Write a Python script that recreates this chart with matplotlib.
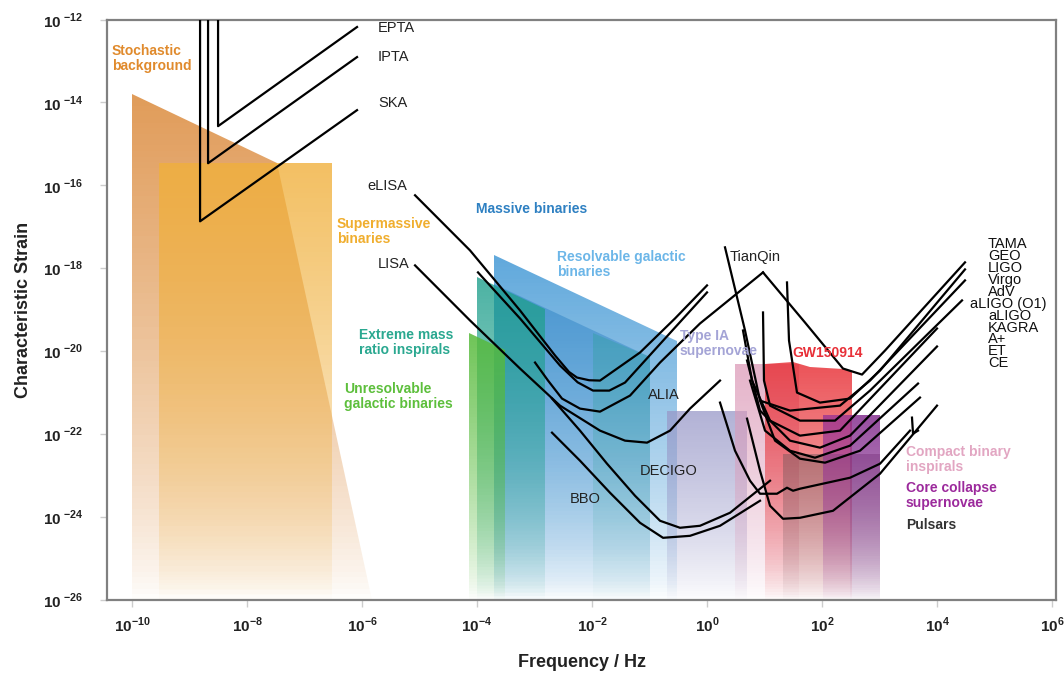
import numpy as np
import matplotlib
matplotlib.use('Agg')
import matplotlib.pyplot as plt
from matplotlib.patches import Polygon
from matplotlib.colors import LinearSegmentedColormap, to_rgb

plt.rcParams['font.family'] = ['Liberation Sans', 'DejaVu Sans']
plt.rcParams['mathtext.fontset'] = 'custom'
plt.rcParams['mathtext.rm'] = 'Liberation Sans'
plt.rcParams['mathtext.bf'] = 'Liberation Sans:bold'

# all values are log10(frequency / Hz) and log10(characteristic strain)
FLOOR = -26.0

# source regions (polygon corners)
stoch_f = [-10.0, -7.48, -5.83, -10.0]
stoch_h = [-13.80, -15.47, FLOOR, FLOOR]
smbh_f = [-9.53, -6.52, -6.52, -9.53]
smbh_h = [-15.47, -15.47, FLOOR, FLOOR]
mb_f = [-3.70, -0.52, -0.52, -3.70]
mb_h = [-17.69, -19.75, FLOOR, FLOOR]
rgb_f = [-3.70, -0.99, -0.99, -3.70]
rgb_h = [-18.37, -20.15, FLOOR, FLOOR]
emri_f = [-4.00, -2.82, -2.82, -4.00]
emri_h = [-18.22, -18.99, FLOOR, FLOOR]
emri2_f = [-1.98, -0.99, -0.99, -1.98]
emri2_h = [-19.55, -20.15, FLOOR, FLOOR]
ugb_f = [-4.14, -3.51, -3.51, -4.14]
ugb_h = [-19.57, -19.98, FLOOR, FLOOR]
sn1a_f = [-0.70, 0.70, 0.70, -0.70]
sn1a_h = [-21.43, -21.43, FLOOR, FLOOR]
cbc_f = [0.49, 1.60, 1.60, 0.49]
cbc_h = [-20.30, -20.30, FLOOR, FLOOR]
gw_f = [1.01, 1.50, 1.79, 2.37, 2.52, 2.52, 1.01]
gw_h = [-20.30, -20.27, -20.39, -20.42, -20.47, FLOOR, FLOOR]
psr_f = [1.32, 3.01, 3.01, 1.32]
psr_h = [-22.47, -22.47, FLOOR, FLOOR]
ccsn_f = [2.02, 3.01, 3.01, 2.02]
ccsn_h = [-21.55, -21.55, FLOOR, FLOOR]
ccsn2_f = [2.49, 3.01, 3.01, 2.49]
ccsn2_h = [-21.55, -21.55, FLOOR, FLOOR]

# pulsar timing arrays
epta_f = [-8.504, -8.504, -6.087]
epta_h = [-11.9, -14.572, -12.181]
ipta_f = [-8.678, -8.678, -6.087]
ipta_h = [-11.9, -15.466, -12.906]
ska_f = [-8.817, -8.817, -6.087]
ska_h = [-11.9, -16.867, -14.186]

# space detectors
elisa_f = [-5.078, -4.122, -3.252, -2.643, -2.40, -2.261, -2.05, -1.861, -1.165, -0.557, 0.0]
elisa_h = [-16.239, -17.568, -19.017, -20.103, -20.50, -20.635, -20.70, -20.708, -20.031, -19.210, -18.413]
taiji_f = [-3.983, -3.252, -2.557, -2.25, -1.983, -1.70, -1.426, -0.730, 0.0]
taiji_h = [-18.099, -19.210, -20.345, -20.75, -20.949, -20.95, -20.756, -19.693, -18.582]
lisa_f = [-5.078, -4.122, -3.252, -2.557, -1.861, -1.426, -1.043, -0.643, -0.296, 0.226]
lisa_h = [-17.930, -19.258, -20.418, -21.312, -21.915, -22.157, -22.205, -21.915, -21.384, -20.708]
alia_f = [-2.991, -2.765, -2.522, -2.209, -1.861, -1.339, -0.817, -0.122, 0.974]
alia_h = [-20.273, -20.708, -21.142, -21.384, -21.457, -21.070, -20.273, -19.331, -18.099]
decigo_f = [-2.696, -2.209, -1.739, -1.252, -0.817, -0.470, -0.122, 0.400, 1.096]
decigo_h = [-21.142, -21.915, -22.713, -23.486, -24.089, -24.258, -24.210, -23.896, -23.123]
bbo_f = [-2.696, -2.209, -1.687, -1.165, -0.765, -0.296, 0.226, 0.922]
bbo_h = [-21.964, -22.640, -23.413, -24.138, -24.500, -24.452, -24.210, -23.606]

# ground detectors
tama_f = [0.974, 1.704, 2.365, 2.696, 3.096, 4.487]
tama_h = [-18.099, -19.307, -20.418, -20.563, -19.983, -17.857]
geo_f = [1.391, 1.426, 1.565, 1.965, 2.487, 3.009, 4.487]
geo_h = [-18.341, -19.741, -20.997, -21.239, -21.142, -20.466, -18.027]
ligo_f = [0.313, 0.661, 0.922, 1.443, 2.313, 2.835, 4.487]
ligo_h = [-17.495, -19.5, -21.191, -21.432, -21.312, -20.708, -18.292]
virgo_f = [0.974, 0.991, 1.096, 1.617, 2.226, 2.835, 4.435]
virgo_h = [-19.065, -20.708, -21.312, -21.674, -21.674, -20.949, -18.775]
adv_f = [0.626, 0.783, 1.096, 1.617, 2.313, 4.0]
adv_h = [-19.5, -20.708, -21.674, -22.036, -21.915, -19.452]
aligo_f = [0.696, 0.922, 1.443, 1.965, 2.487, 4.0]
aligo_h = [-20.224, -21.432, -22.157, -22.326, -22.036, -19.886]
kagra_f = [0.748, 1.009, 1.443, 1.878, 2.487, 3.670]
kagra_h = [-20.708, -21.915, -22.399, -22.568, -22.278, -20.780]
aplus_f = [0.922, 1.183, 1.617, 2.052, 2.661, 3.704]
aplus_h = [-21.191, -22.157, -22.592, -22.688, -22.399, -21.118]
et_f = [0.226, 0.487, 0.748, 0.922, 1.217, 1.391, 1.496, 1.617, 2.487, 3.009, 3.530]
et_h = [-21.239, -22.399, -23.123, -23.437, -23.437, -23.292, -23.365, -23.316, -23.051, -22.713, -21.915]
ce_f = [0.696, 0.922, 1.096, 1.322, 1.617, 2.191, 3.009, 4.0]
ce_h = [-21.626, -22.882, -23.727, -24.041, -24.017, -23.848, -22.954, -21.312]
psr_tick_f = [3.565, 3.583, 3.670]
psr_tick_h = [-21.601, -21.988, -21.915]

detectors = ['TAMA', 'GEO', 'LIGO', 'Virgo', 'AdV', 'aLIGO (O1)', 'aLIGO',
             'KAGRA', 'A+', 'ET', 'CE']

fig = plt.figure(figsize=(10.64, 6.75), dpi=100)
ax = fig.add_axes([0.1006, 0.1111, 0.8919, 0.86])
ax.set_xscale('log')
ax.set_yscale('log')


def shade(lf, lh, color, a0):
    f = 10.0 ** np.asarray(lf)
    h = 10.0 ** np.asarray(lh)
    poly = Polygon(np.column_stack([f, h]), closed=True, fc='none', ec='none')
    ax.add_patch(poly)
    top = max(lh)
    edges = np.linspace(FLOOR, top, 90)
    mids = 0.5 * (edges[1:] + edges[:-1])
    frac = ((mids - FLOOR) / (top - FLOOR)) ** 0.75
    r, g, b = to_rgb(color)
    cmap = LinearSegmentedColormap.from_list('fade', [(r, g, b, 0.0), (r, g, b, a0)])
    mesh = ax.pcolormesh([f.min(), f.max()], 10.0 ** edges, frac[:, None],
                         cmap=cmap, vmin=0, vmax=1, shading='flat', zorder=1)
    mesh.set_clip_path(poly)


shade(stoch_f, stoch_h, '#d98330', 0.8)
shade(smbh_f, smbh_h, '#f0b03c', 0.8)
shade(mb_f, mb_h, '#4f9fd8', 0.9)
shade(rgb_f, rgb_h, '#2a80c4', 0.5)
shade(emri_f, emri_h, '#1f9f8c', 0.8)
shade(emri2_f, emri2_h, '#1f9f8c', 0.3)
shade(ugb_f, ugb_h, '#56ba3a', 0.85)
shade(sn1a_f, sn1a_h, '#9898c8', 0.75)
shade(cbc_f, cbc_h, '#dc9ab8', 0.75)
shade(gw_f, gw_h, '#e8343a', 0.85)
shade(psr_f, psr_h, '#6e5458', 0.45)
shade(ccsn_f, ccsn_h, '#8f2c98', 0.7)
shade(ccsn2_f, ccsn2_h, '#6a1e78', 0.35)

curves = [(epta_f, epta_h), (ipta_f, ipta_h), (ska_f, ska_h),
          (elisa_f, elisa_h), (taiji_f, taiji_h), (lisa_f, lisa_h),
          (alia_f, alia_h), (decigo_f, decigo_h), (bbo_f, bbo_h),
          (tama_f, tama_h), (geo_f, geo_h), (ligo_f, ligo_h),
          (virgo_f, virgo_h), (adv_f, adv_h), (aligo_f, aligo_h),
          (kagra_f, kagra_h), (aplus_f, aplus_h), (et_f, et_h),
          (ce_f, ce_h), (psr_tick_f, psr_tick_h)]
for cf, ch in curves:
    ax.plot(10.0 ** np.array(cf), 10.0 ** np.array(ch), color='black',
            lw=1.6, zorder=3, solid_joinstyle='round')

ax.set_xlim(10 ** -10.435, 10 ** 6.07)
ax.set_ylim(1e-26, 1e-12)

# coloured source labels
src_labels = [
    ('Stochastic\nbackground', -10.348, -12.942, '#e08a2c'),
    ('Supermassive\nbinaries', -6.435, -17.109, '#f0ae2e'),
    ('Massive binaries', -4.017, -16.577, '#2e80c2'),
    ('Resolvable galactic\nbinaries', -2.609, -17.918, '#6cb6e8'),
    ('Extreme mass\nratio inspirals', -6.052, -19.789, '#2aa890'),
    ('Unresolvable\ngalactic binaries', -6.313, -21.082, '#5dbf3c'),
    ('Type IA\nsupernovae', -0.470, -19.814, '#a4a4d6'),
    ('GW150914', 1.478, -20.031, '#e83038'),
    ('Compact binary\ninspirals', 3.461, -22.616, '#e2a6c2'),
    ('Core collapse\nsupernovae', 3.461, -23.486, '#9c2a9c'),
    ('Pulsars', 3.461, -24.186, '#333333'),
]
for txt, lx, ly, col in src_labels:
    ax.text(10 ** lx, 10 ** ly, txt, color=col, fontsize=10, fontweight='bold',
            ha='left', va='center', linespacing=1.1, zorder=4)

det_labels = [
    ('EPTA', -5.722, -12.205), ('IPTA', -5.722, -12.906), ('SKA', -5.722, -14.017),
    ('eLISA', -5.913, -16.022), ('LISA', -5.722, -17.906), ('TianQin', 0.400, -17.737),
    ('ALIA', -1.026, -21.046), ('DECIGO', -1.165, -22.882), ('BBO', -2.383, -23.558),
]
for txt, lx, ly in det_labels:
    ax.text(10 ** lx, 10 ** ly, txt, color='#222222', fontsize=10.5,
            ha='left', va='center', zorder=4)

for i, name in enumerate(detectors):
    lx = 4.574 if name == 'aLIGO (O1)' else 4.887
    ax.text(10 ** lx, 10 ** (-17.42 - 0.287 * i), name, color='#111111',
            fontsize=10.5, ha='left', va='center', zorder=4)

xt = list(range(-10, 7, 2))
ax.set_xticks([10.0 ** k for k in xt])
ax.set_xticklabels([r'$\mathbf{10}^{\mathbf{%d}}$' % k for k in xt])
yt = list(range(-26, -11, 2))
ax.set_yticks([10.0 ** k for k in yt])
ax.set_yticklabels([r'$\mathbf{10}^{\ \mathbf{%d}}$' % k for k in yt])
ax.minorticks_off()
ax.tick_params(axis='both', length=5, width=1, color='#cccccc',
               labelsize=11, labelcolor='#222222')
ax.tick_params(axis='y', pad=12)
ax.tick_params(axis='x', pad=6)
for sp in ax.spines.values():
    sp.set_color('#808080')
    sp.set_linewidth(1.6)

ax.set_xlabel('Frequency / Hz', fontsize=13, fontweight='bold', color='#222222', labelpad=14)
ax.set_ylabel('Characteristic Strain', fontsize=13, fontweight='bold', color='#222222', labelpad=8)

fig.savefig('out.png', dpi=100)
